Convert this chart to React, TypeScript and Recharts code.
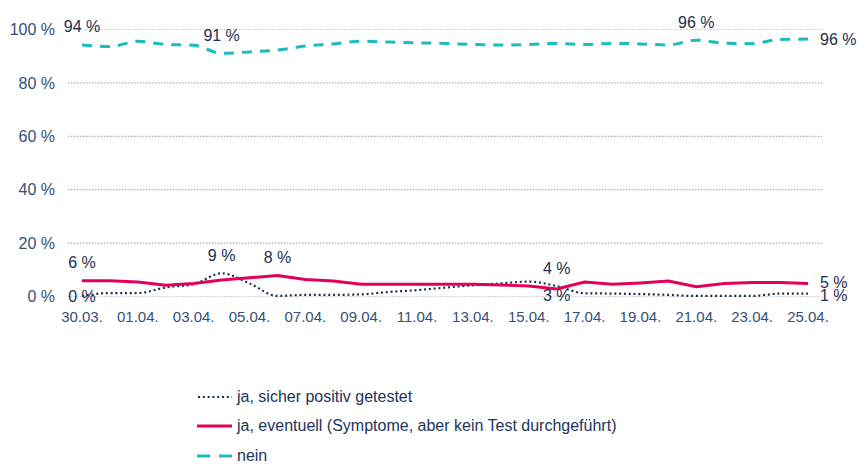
import React from 'react';
import { LineChart, Line, XAxis, YAxis, CartesianGrid, Legend } from 'recharts';

const dates = ['30.03.','31.03.','01.04.','02.04.','03.04.','04.04.','05.04.','06.04.','07.04.','08.04.','09.04.','10.04.','11.04.','12.04.','13.04.','14.04.','15.04.','16.04.','17.04.','18.04.','19.04.','20.04.','21.04.','22.04.','23.04.','24.04.','25.04.'];
const positive = [0.2,1.3,1.3,3.4,4.6,8.7,4.9,0.2,0.6,0.6,0.8,1.7,2.4,3.3,4.2,4.9,5.6,3.9,1.2,1.1,0.9,0.6,0.2,0.2,0.2,1.1,1.1];
const possible = [5.9,5.9,5.4,4.2,4.9,6.2,7.0,7.9,6.4,5.8,4.6,4.6,4.6,4.6,4.6,4.3,3.9,2.8,5.4,4.6,5.1,5.8,3.7,4.9,5.2,5.2,4.9];
const no = [94.2,93.6,95.6,94.4,94.1,91.1,91.6,92.3,93.8,94.6,95.6,95.3,95.0,94.8,94.4,94.2,94.4,94.8,94.4,94.8,94.6,94.2,96.0,94.9,94.7,96.3,96.4];
const yTicks = [0, 20, 40, 60, 80, 100];

const seriesNames = ['ja, sicher positiv getestet', 'ja, eventuell (Symptome, aber kein Test durchgeführt)', 'nein'];
const positiveLabels: [number, string][] = [[0, 'center'], [5, 'top'], [17, 'top'], [26, 'rightLow']];
const possibleLabels: [number, string][] = [[0, 'top'], [7, 'top'], [17, 'bottom'], [26, 'rightHigh']];
const noLabels: [number, string][] = [[0, 'top'], [5, 'top'], [22, 'top'], [26, 'right']];

const data = dates.map((d, i) => ({ date: d, positive: positive[i], possible: possible[i], no: no[i] }));

const NAVY = '#1c2d50';
const PINK = '#e4005a';
const TEAL = '#1bbcc0';
const TICK = '#34507a';
const LABEL = '#1e2e4e';
const FONT = '"Liberation Sans", Arial, sans-serif';

const makeLabel = (spec: [number, string][]) => (props: any) => {
  const { x, y, value, index } = props;
  const found = spec.find((s) => s[0] === index);
  if (!found || x == null || y == null) return null;
  const pos = found[1];
  let tx = x;
  let ty = y;
  let anchor: 'middle' | 'start' = 'middle';
  if (pos === 'top') ty = y - 12.5;
  else if (pos === 'bottom') ty = y + 11.5;
  else if (pos === 'right') { tx = x + 12; ty = y + 5.5; anchor = 'start'; }
  else if (pos === 'rightHigh') { tx = x + 12; ty = y + 4.5; anchor = 'start'; }
  else if (pos === 'rightLow') { tx = x + 12; ty = y + 7.5; anchor = 'start'; }
  else ty = y + 6;
  return (
    <text key={`l-${index}`} x={tx} y={ty} textAnchor={anchor} fontSize={16} fontFamily={FONT} fill={LABEL}>
      {`${Math.round(value)} %`}
    </text>
  );
};

const gridLine = (props: any) => {
  const { x1, y1, x2, y2, index } = props;
  const edge = index === 0 || index === yTicks.length - 1;
  return (
    <line key={`g-${index}`} x1={x1} y1={y1} x2={x2} y2={y2}
      stroke={edge ? '#c4c7cc' : '#8d9cb0'} strokeWidth={1} strokeDasharray="1.5 1.5" />
  );
};

const LegendContent = () => {
  const samples = [
    <line x1={1} y1={7} x2={35} y2={7} stroke={NAVY} strokeWidth={2.2} strokeDasharray="2 2.8" />,
    <line x1={0} y1={7} x2={35} y2={7} stroke={PINK} strokeWidth={3} />,
    <line x1={0} y1={7} x2={35} y2={7} stroke={TEAL} strokeWidth={3} strokeDasharray="13 9" />,
  ];
  return (
    <div style={{ fontFamily: FONT, fontSize: 16, color: '#22345a' }}>
      {seriesNames.map((n, i) => (
        <div key={n} style={{ display: 'flex', alignItems: 'center', height: 29.5 }}>
          <svg width={36} height={14} style={{ marginRight: 4 }}>{samples[i]}</svg>
          <span style={{ whiteSpace: 'nowrap' }}>{n}</span>
        </div>
      ))}
    </div>
  );
};

export default function App() {
  return (
    <div style={{ position: 'absolute', left: 0, top: 0, width: 858, height: 464, background: '#fff' }}>
      <LineChart width={858} height={464} data={data} margin={{ top: 29.5, right: 36, left: 8, bottom: 137.5 }}>
        <CartesianGrid vertical={false} horizontal={gridLine} />
        <XAxis dataKey="date" interval={1} axisLine={false} tickLine={false} tickMargin={9} height={30}
          padding={{ left: 14, right: 14 }}
          tick={{ fontSize: 15, fill: TICK, fontFamily: FONT }} />
        <YAxis domain={[0, 100]} ticks={yTicks} width={60} axisLine={false} tickLine={false} tickMargin={7}
          tickFormatter={(v: number) => `${v} %`}
          tick={{ fontSize: 16, fill: TICK, fontFamily: FONT }} />
        <Line type="monotone" dataKey="positive" name={seriesNames[0]} stroke={NAVY} strokeWidth={2.2}
          strokeDasharray="2 2.8" dot={false} isAnimationActive={false} label={makeLabel(positiveLabels)} />
        <Line type="linear" dataKey="possible" name={seriesNames[1]} stroke={PINK} strokeWidth={3}
          dot={false} isAnimationActive={false} label={makeLabel(possibleLabels)} />
        <Line type="monotone" dataKey="no" name={seriesNames[2]} stroke={TEAL} strokeWidth={3}
          strokeDasharray="10 8" dot={false} isAnimationActive={false} label={makeLabel(noLabels)} />
        <Legend layout="horizontal" verticalAlign="middle" align="center" content={<LegendContent />}
          wrapperStyle={{ left: 197, top: 382, width: 500, height: 90 }} />
      </LineChart>
    </div>
  );
}
